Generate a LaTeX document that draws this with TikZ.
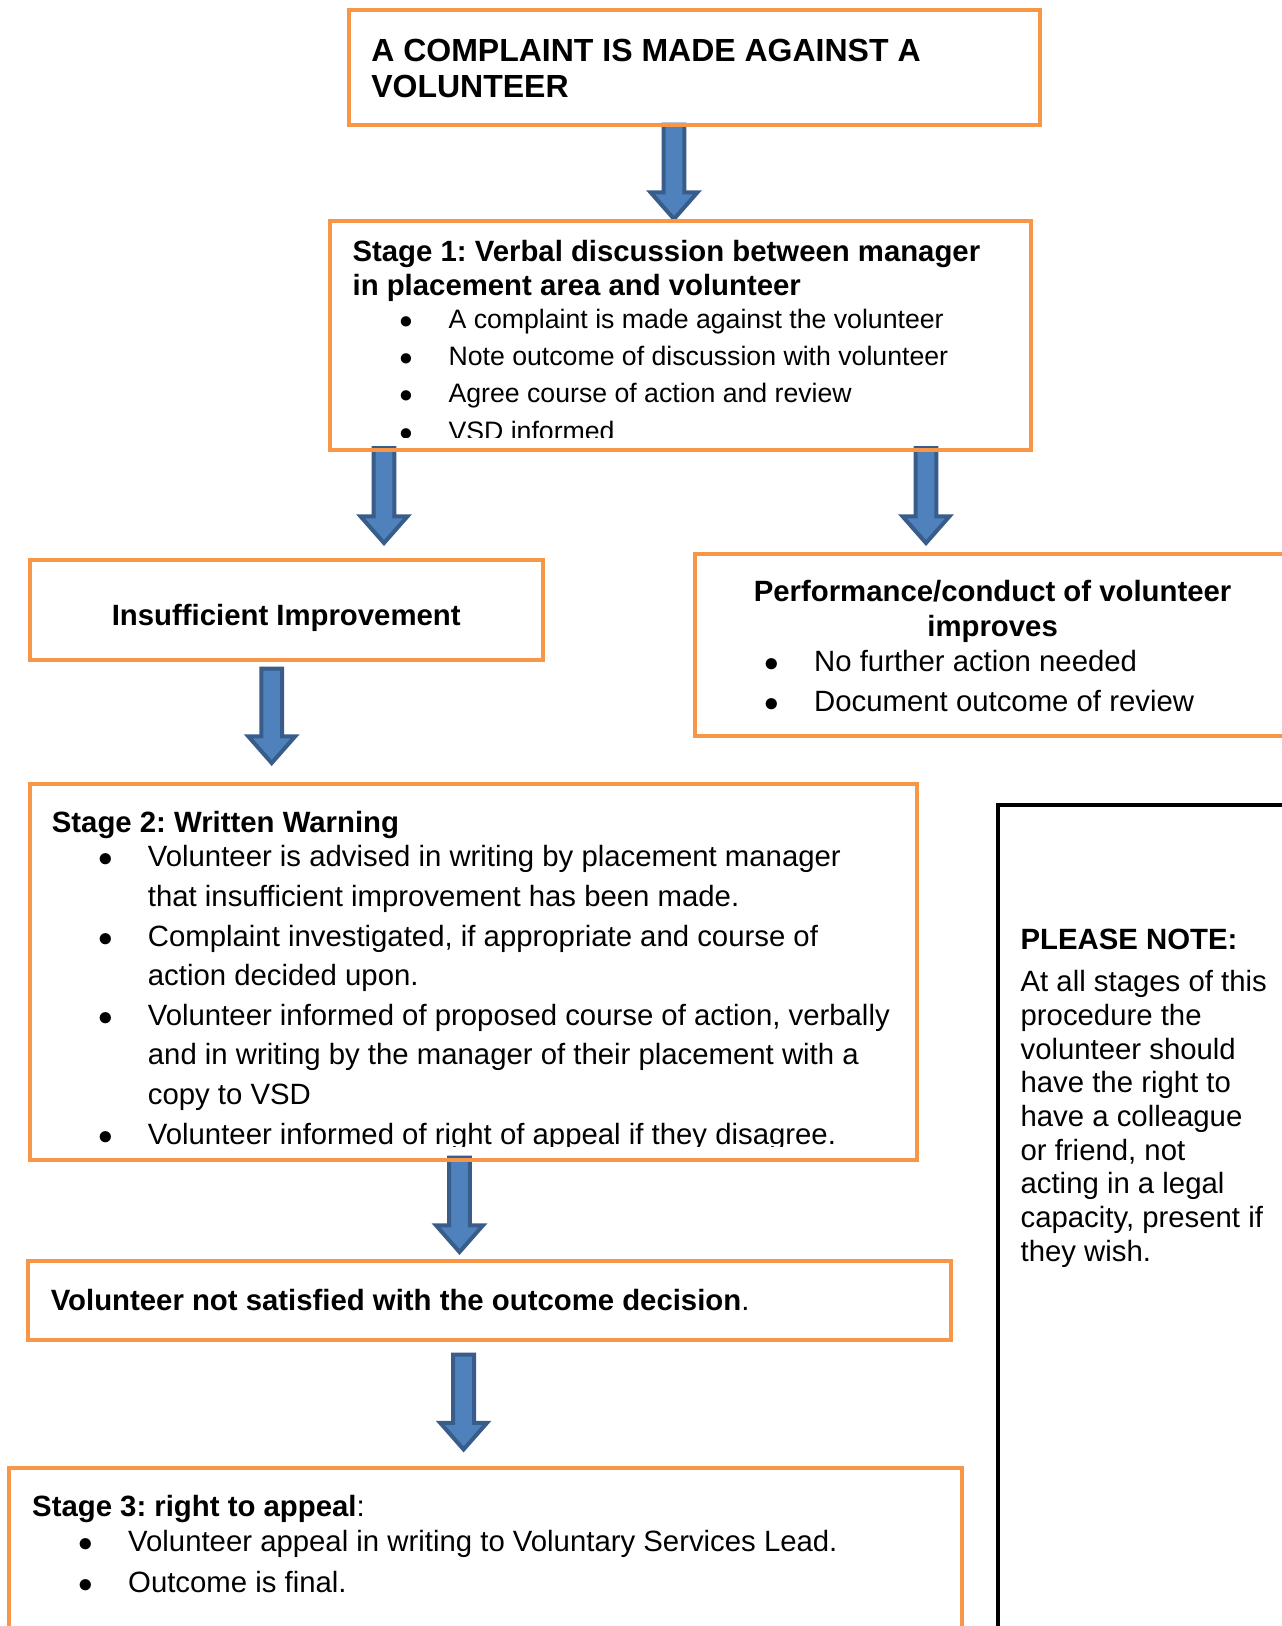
\documentclass[tikz,border=0pt]{standalone}
\usepackage{fontspec}
\setmainfont{Liberation Sans}
\usetikzlibrary{positioning,calc,backgrounds}
\frenchspacing

\definecolor{boxorange}{HTML}{F79646}
\definecolor{arrowfill}{HTML}{4F81BD}
\definecolor{arrowedge}{HTML}{385D8A}

\newcommand{\bul}{\makebox[36pt][l]{\hspace{17.5pt}$\bullet$}}
\newcommand{\cont}{\hspace*{36pt}}

\begin{document}
\begin{tikzpicture}[x=0.375pt, y=-0.375pt, font=\fontsize{11}{12.8}\selectfont,
  box/.style={draw=boxorange, line width=1.5pt, outer sep=0pt, inner sep=0pt, anchor=north west},
  notebox/.style={draw=black, line width=1.5pt, outer sep=0pt, inner sep=0pt, anchor=north west},
  txt/.style={inner sep=0pt, outer sep=0pt, anchor=base west, align=left},
  head/.style={font=\fontsize{11}{12.8}\selectfont\bfseries},
  blockarrow/.style={fill=arrowfill, draw=arrowedge, line width=1.5pt,
    to path={let \p1=(\tikztostart), \p2=(\tikztotarget) in
      (\x1-3.9pt,\y1) -- (\x1-3.9pt,\y2+10pt) -- (\x1-8.8pt,\y2+10pt) -- (\x1,\y2)
      -- (\x1+8.8pt,\y2+10pt) -- (\x1+3.9pt,\y2+10pt) -- (\x1+3.9pt,\y1) -- cycle}}]
  \path[use as bounding box] (0,0) rectangle (1282,1626);
  \clip (0,0) rectangle (1282,1626);

  % boxes
  \node[box, minimum width=259.3pt, minimum height=42.8pt] (top) at (348.5,10.4) {};
  \node[box, minimum width=262.9pt, minimum height=85.9pt] (s1) at (330,221) {};
  \node[box, minimum width=192.2pt, minimum height=37.4pt] (ins) at (30,560) {};
  \node[box, minimum width=224.3pt, minimum height=68.4pt] (perf) at (695,554) {};
  \node[box, minimum width=332.6pt, minimum height=140.9pt] (s2) at (30,784) {};
  \node[notebox, minimum width=117pt, minimum height=320.6pt] (note) at (998,805) {};
  \node[box, minimum width=346.1pt, minimum height=29.6pt] (ns) at (28,1261) {};
  \node[box, minimum width=357.4pt, minimum height=68.3pt] (s3) at (9.3,1468) {};

  % texts (multi-line nodes sit on the baseline of their last line)
  \node[txt, font=\fontsize{12}{13.6}\selectfont\bfseries] (toptxt) at (371.3,97.6)
    {A COMPLAINT IS MADE AGAINST A\\VOLUNTEER};
  \node[txt, head] (s1head) at (352.6,295.7)
    {Stage 1: Verbal discussion between manager\\in placement area and volunteer};
  \begin{scope}
    \clip (s1.north west) rectangle ($(s1.south east)+(0,-12.5)$);
    \node[txt, font=\fontsize{10}{14}\selectfont] (s1list) at (352.6,440)
      {\bul A complaint is made against the volunteer\\
       \bul Note outcome of discussion with volunteer\\
       \bul Agree course of action and review\\
       \bul VSD informed};
  \end{scope}
  \node[head, anchor=base, inner sep=0pt] (instxt) at (286.2,625.5) {Insufficient Improvement};
  \node[head, anchor=base, inner sep=0pt, align=center] (perfhead) at (992.6,636)
    {Performance/conduct of volunteer\\improves};
  \node[txt, font=\fontsize{11}{15.15}\selectfont] (perflist) at (718.2,711.6)
    {\bul No further action needed\\
     \bul Document outcome of review};
  \node[txt, head] (s2head) at (51.9,832) {Stage 2: Written Warning};
  \begin{scope}
    \clip (s2.north west) rectangle ($(s2.south east)+(0,-13.6)$);
    \node[txt, font=\fontsize{11}{14.85}\selectfont] (s2list) at (51.9,1144)
      {\bul Volunteer is advised in writing by placement manager\\
       \cont that insufficient improvement has been made.\\
       \bul Complaint investigated, if appropriate and course of\\
       \cont action decided upon.\\
       \bul Volunteer informed of proposed course of action, verbally\\
       \cont and in writing by the manager of their placement with a\\
       \cont copy to VSD\\
       \bul Volunteer informed of right of appeal if they disagree.};
  \end{scope}
  \node[txt, head] (notehead) at (1020.6,949) {PLEASE NOTE:};
  \node[txt, font=\fontsize{11}{12.64}\selectfont] (notetxt) at (1020.6,1261.3)
    {At all stages of this\\procedure the\\volunteer should\\have the right to\\have a colleague\\
     or friend, not\\acting in a legal\\capacity, present if\\they wish.};
  \node[txt, head] (nstxt) at (50.8,1310)
    {Volunteer not satisfied with the outcome decision\mdseries.};
  \node[txt, head] (s3head) at (32.2,1516.5) {Stage 3: right to appeal\mdseries:};
  \node[txt, font=\fontsize{11}{15.15}\selectfont] (s3list) at (32.2,1592.2)
    {\bul Volunteer appeal in writing to Voluntary Services Lead.\\
     \bul Outcome is final.};

  % arrows
  \begin{pgfonlayer}{background}
    \fill[white] (0,0) rectangle (1282,1626);
    \draw[blockarrow] ($(top.south west)+(325.5,0)$) to ($(s1.north)+(0,-2)$);
    \draw[blockarrow] ($(s1.south west)+(54,-2)$) to ($(ins.north)+(0,-17)$);
    \draw[blockarrow] ($(s1.south west)+(596,-2)$) to ($(perf.north)+(0,-11)$);
    \draw[blockarrow] ($(ins.south west)+(241.7,9)$) to ($(s2.north)+(0,-21)$);
    \draw[blockarrow] ($(s2.south west)+(429.5,-2)$) to ($(ns.north)+(0,-9)$);
    \draw[blockarrow] ($(ns.south west)+(435.6,14.6)$) to ($(s3.north)+(0,-18.6)$);
  \end{pgfonlayer}
\end{tikzpicture}
\end{document}
